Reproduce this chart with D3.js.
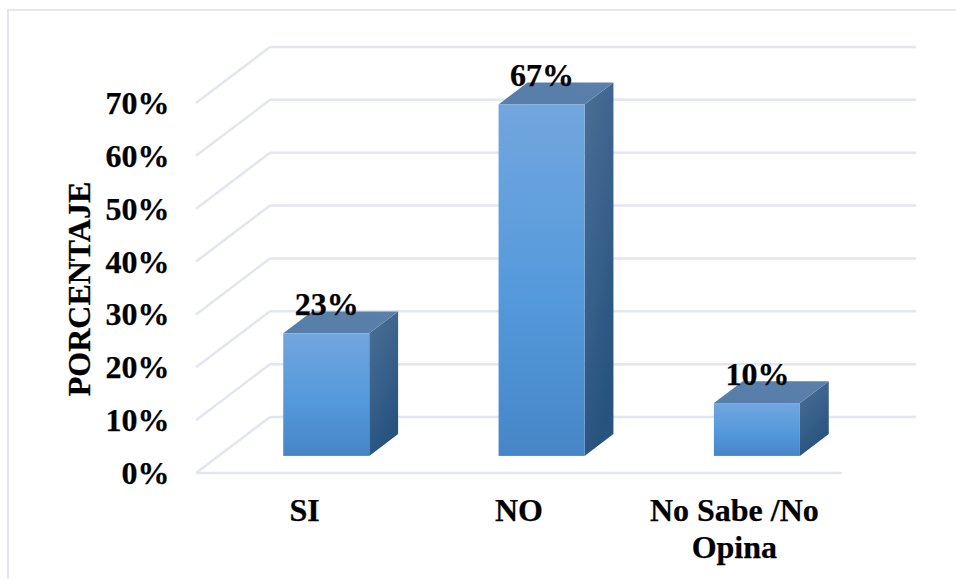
<!DOCTYPE html>
<html><head><meta charset="utf-8">
<script src="https://cdn.jsdelivr.net/npm/d3@7"></script>
<style>html,body{margin:0;padding:0;background:#fff}svg{display:block}text{font-family:"Liberation Serif",serif;font-weight:bold;fill:#000;stroke:#000;stroke-width:.25}</style>
</head><body><svg id="c" width="956" height="579"></svg>
<script>
const categories = ["SI", "NO", "No Sabe /No Opina"];
const categoryLines = [["SI"], ["NO"], ["No Sabe /No", "Opina"]];
const values = [23.2, 66.5, 10];
const tickValues = [0, 10, 20, 30, 40, 50, 60, 70];
const axisTitle = "PORCENTAJE";

const svg = d3.select("#c");
const grid = "#e3e6ee";
const x = d3.scaleBand().domain(categories).range([196, 842]).paddingInner(0).paddingOuter(0);
const y = d3.scaleLinear().domain([0, 70]).range([473, 103]);
// depth scale: 0 = front floor edge, 1 = back wall
const dx = d3.scaleLinear().domain([0, 1]).range([0, 74]);
const dy = d3.scaleLinear().domain([0, 1]).range([0, -56]);
const d0 = 0.305, d1 = 0.695;
const barW = 86;

const defs = svg.append("defs");
function grad(id, x1, y1, x2, y2, stops) {
  const g = defs.append("linearGradient").attr("id", id)
    .attr("x1", x1).attr("y1", y1).attr("x2", x2).attr("y2", y2);
  stops.forEach(s => g.append("stop").attr("offset", s[0]).attr("stop-color", s[1]));
}
grad("front", 0, 0, 0, 1, [[0, "#72a6de"], [0.55, "#5499dc"], [1, "#4686c7"]]);
grad("top", 0, 1, 1, 0, [[0, "#557ea8"], [1, "#5b80aa"]]);
grad("side", 0, 0, 0.4, 1, [[0, "#4c7097"], [1, "#27537f"]]);

// frame
svg.append("path").attr("d", "M8,579V10H956").attr("fill", "none").attr("stroke", grid).attr("stroke-width", 2);

// gridlines: side wall, back wall
tickValues.forEach(t => {
  const yf = y(t);
  svg.append("line").attr("x1", x.range()[0]).attr("y1", yf)
    .attr("x2", x.range()[0] + dx(1)).attr("y2", yf + dy(1))
    .attr("stroke", grid).attr("stroke-width", 2.5);
  svg.append("line").attr("x1", x.range()[0] + dx(1)).attr("y1", yf + dy(1))
    .attr("x2", 916).attr("y2", yf + dy(1))
    .attr("stroke", grid).attr("stroke-width", 2.5);
});
// floor front edge
svg.append("line").attr("x1", x.range()[0]).attr("y1", y(0)).attr("x2", x.range()[1]).attr("y2", y(0))
  .attr("stroke", grid).attr("stroke-width", 2.5);

// tick labels
svg.append("g").selectAll("text").data(tickValues).join("text")
  .attr("x", 169.5).attr("y", d => y(d) + 11).attr("text-anchor", "end")
  .attr("font-size", 32).text(d => d + "%");

// axis title
svg.append("text").attr("transform", "translate(90,289) rotate(-90)")
  .attr("text-anchor", "middle").attr("font-size", 32).text(axisTitle);

// bars
const bars = svg.append("g").selectAll("g").data(categories.map((c, i) => ({c, v: values[i]}))).join("g");
const pt = (a) => a.map(p => p.join(",")).join(" ");
bars.each(function(d) {
  const g = d3.select(this);
  const left = x(d.c) + (x.bandwidth() - barW) / 2 + dx(d0);
  const right = left + barW;
  const bottom = y(0) + dy(d0);
  const top = y(d.v) + dy(d0);
  const ox = dx(d1) - dx(d0), oy = dy(d1) - dy(d0);
  g.append("polygon").attr("fill", "url(#side)")
    .attr("points", pt([[right, top], [right + ox, top + oy], [right + ox, bottom + oy], [right, bottom]]));
  g.append("polygon").attr("fill", "url(#top)")
    .attr("points", pt([[left, top], [left + ox, top + oy], [right + ox, top + oy], [right, top]]));
  g.append("rect").attr("x", left).attr("y", top).attr("width", barW).attr("height", bottom - top)
    .attr("fill", "url(#front)");
  g.append("text").attr("x", (left + right) / 2 + 0.5).attr("y", top - 18.5)
    .attr("text-anchor", "middle").attr("font-size", 32).text(d3.format(".0f")(d.v) + "%");
});

// category labels
svg.append("g").selectAll("text").data(categories).join("text")
  .attr("text-anchor", "middle").attr("font-size", 32)
  .each(function(c, i) {
    const cx = x(c) + x.bandwidth() / 2;
    d3.select(this).selectAll("tspan").data(categoryLines[i]).join("tspan")
      .attr("x", cx + (i === 0 ? 1 : 0)).attr("y", (l, j) => 520.5 + j * 37).text(l => l);
  });
</script></body></html>
